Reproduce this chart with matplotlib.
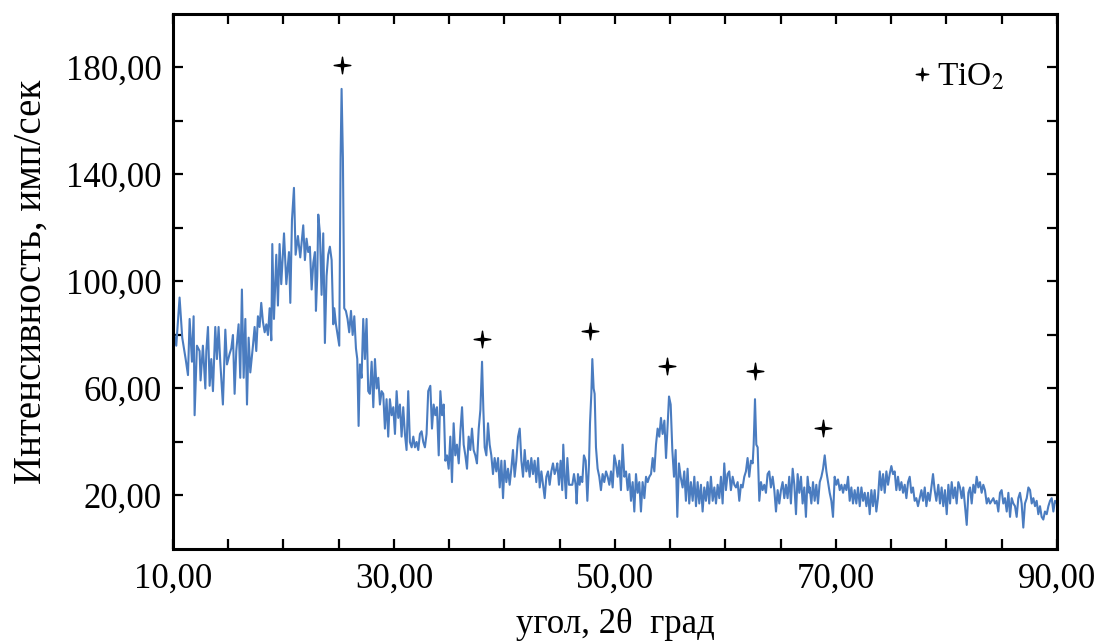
# -*- coding: utf-8 -*-

import matplotlib
matplotlib.use('Agg')
import matplotlib.pyplot as plt
import numpy as np
from matplotlib.path import Path
from matplotlib.lines import Line2D
from matplotlib.ticker import FuncFormatter, MultipleLocator, FixedLocator

# XRD pattern
theta_1 = [10.00, 10.30, 10.60, 10.84, 11.15, 11.36, 11.51, 11.72, 11.87, 11.96,
           12.17, 12.41, 12.50, 12.71, 12.93, 13.02, 13.17, 13.32, 13.47, 13.62,
           13.83, 13.98, 14.13, 14.28, 14.52, 14.74, 14.89, 15.13, 15.28, 15.43,
           15.58, 15.73, 15.94, 16.09, 16.24, 16.40, 16.55, 16.70, 16.85, 17.00,
           17.24, 17.39, 17.54, 17.69, 17.84, 17.99, 18.14, 18.30, 18.45, 18.60,
           18.75, 18.90, 18.99, 19.14, 19.35, 19.50, 19.65, 19.80, 20.05, 20.26,
           20.50, 20.62, 20.77, 20.95, 21.10, 21.31, 21.52]
counts_1 = [83, 76, 94, 79, 71, 65, 86, 70, 87, 50,
            76, 74, 63, 76, 60, 74, 83, 61, 71, 59,
            83, 71, 83, 70, 54, 82, 69, 73, 75, 80,
            58, 74, 84, 64, 97, 64, 86, 54, 79, 66,
            76, 83, 74, 87, 83, 92, 85, 81, 84, 80,
            90, 78, 114, 86, 110, 91, 114, 99, 118, 99,
            111, 92, 123, 135, 110, 117, 109]

theta_2 = [21.79, 21.94, 22.09, 22.24, 22.39, 22.55, 22.70, 22.85, 22.94, 23.06,
           23.15, 23.30, 23.45, 23.60, 23.75, 23.90, 24.05, 24.20, 24.36, 24.51,
           24.60, 24.75, 24.90, 25.05, 25.17, 25.26, 25.38, 25.50, 25.65, 25.80,
           25.95, 26.11, 26.26, 26.41, 26.56, 26.68, 26.80, 26.92, 27.07, 27.22,
           27.37, 27.52, 27.67, 27.82, 27.98, 28.13, 28.28, 28.43, 28.58, 28.73,
           28.88, 29.03, 29.18, 29.33, 29.48, 29.63, 29.79, 29.94, 30.09, 30.24,
           30.39, 30.54, 30.69, 30.84, 30.99, 31.14, 31.29, 31.44, 31.60, 31.75,
           31.90, 32.05, 32.20, 32.35, 32.50, 32.65, 32.80, 32.95, 33.10]
counts_2 = [121, 108, 116, 111, 113, 97, 107, 111, 89, 102,
            125, 118, 95, 118, 77, 102, 110, 113, 108, 84,
            90, 84, 80, 76, 146, 172, 146, 90, 89, 86,
            81, 89, 80, 87, 75, 71, 46, 69, 64, 86,
            71, 86, 59, 58, 70, 53, 71, 60, 64, 54,
            59, 58, 45, 56, 42, 56, 50, 53, 43, 59,
            49, 54, 42, 53, 43, 37, 59, 40, 38, 42,
            38, 40, 37, 43, 44, 40, 38, 43, 59]

theta_3 = [33.29, 33.44, 33.59, 33.74, 33.89, 34.05, 34.20, 34.35, 34.50, 34.65,
           34.80, 34.95, 35.10, 35.25, 35.40, 35.55, 35.70, 35.86, 36.01, 36.16,
           36.31, 36.46, 36.61, 36.76, 36.91, 37.06, 37.21, 37.36, 37.51, 37.67,
           37.82, 37.97, 38.09, 38.21, 38.36, 38.51, 38.66, 38.81, 38.96, 39.11,
           39.26, 39.42, 39.57, 39.72, 39.87, 40.02, 40.17, 40.32, 40.47, 40.62,
           40.77, 40.92, 41.07, 41.23, 41.38, 41.53, 41.68, 41.83, 41.98, 42.13,
           42.28, 42.43, 42.58, 42.73, 42.88, 43.04, 43.19, 43.34, 43.49, 43.64,
           43.79, 43.94, 44.09, 44.24, 44.39, 44.54, 44.69]
counts_3 = [61, 45, 54, 50, 53, 35, 59, 50, 54, 33,
            35, 30, 42, 25, 47, 35, 39, 32, 44, 53,
            39, 35, 30, 42, 37, 45, 37, 35, 32, 45,
            52, 70, 52, 38, 35, 47, 39, 35, 28, 34,
            29, 34, 23, 33, 19, 33, 25, 30, 24, 30,
            37, 27, 33, 42, 45, 33, 27, 37, 29, 33,
            27, 34, 28, 33, 25, 34, 23, 29, 24, 19,
            27, 29, 24, 29, 32, 28, 30]

theta_4 = [44.78, 44.93, 45.08, 45.23, 45.32, 45.45, 45.57, 45.69, 45.84, 45.99,
           46.14, 46.29, 46.44, 46.53, 46.65, 46.80, 46.89, 47.04, 47.19, 47.35,
           47.50, 47.65, 47.74, 47.86, 47.95, 48.07, 48.16, 48.28, 48.43, 48.58,
           48.73, 48.88, 49.03, 49.19, 49.34, 49.49, 49.64, 49.79, 49.94, 50.09,
           50.24, 50.39, 50.54, 50.69, 50.85, 51.00, 51.15, 51.30, 51.45, 51.60,
           51.75, 51.90, 52.05, 52.20, 52.35, 52.50, 52.66, 52.81, 52.96, 53.11,
           53.26, 53.41, 53.56, 53.71, 53.86, 54.01, 54.16, 54.31, 54.47, 54.62,
           54.77, 54.89, 55.04, 55.19, 55.34, 55.49, 55.64, 55.79, 55.94]
counts_4 = [32, 24, 33, 22, 39, 27, 19, 34, 24, 24,
            24, 28, 24, 17, 28, 24, 27, 25, 35, 33,
            18, 32, 47, 58, 71, 60, 58, 38, 30, 27,
            22, 28, 25, 29, 27, 24, 29, 23, 35, 32,
            27, 33, 22, 39, 27, 29, 22, 28, 18, 25,
            14, 28, 21, 25, 14, 25, 19, 27, 25, 27,
            28, 34, 29, 39, 45, 42, 49, 43, 48, 34,
            47, 57, 54, 37, 27, 37, 12, 32, 27]

theta_5 = [56.12, 56.27, 56.42, 56.57, 56.72, 56.87, 57.03, 57.18, 57.33, 57.48,
           57.63, 57.78, 57.93, 58.08, 58.23, 58.38, 58.53, 58.68, 58.84, 58.99,
           59.14, 59.29, 59.44, 59.59, 59.74, 59.89, 60.04, 60.19, 60.34, 60.49,
           60.65, 60.80, 60.95, 61.10, 61.25, 61.40, 61.55, 61.70, 61.85, 62.00,
           62.15, 62.30, 62.46, 62.55, 62.67, 62.79, 62.91, 63.06, 63.21, 63.36,
           63.51, 63.66, 63.81, 63.96, 64.11, 64.27, 64.42, 64.57, 64.72, 64.87,
           65.02, 65.17, 65.32, 65.47, 65.62, 65.77, 65.92, 66.08, 66.23, 66.38,
           66.53, 66.68, 66.83, 66.98, 67.13, 67.28, 67.43, 67.58]
counts_5 = [23, 29, 18, 30, 17, 25, 18, 27, 16, 25,
            17, 24, 14, 23, 18, 25, 17, 27, 18, 23,
            17, 24, 19, 27, 17, 32, 22, 28, 29, 22,
            27, 24, 23, 25, 18, 24, 23, 27, 29, 34,
            27, 33, 32, 39, 56, 39, 38, 18, 25, 22,
            24, 21, 28, 29, 23, 27, 22, 14, 22, 17,
            22, 25, 19, 24, 19, 27, 17, 30, 24, 13,
            28, 21, 27, 17, 23, 12, 27, 21]

theta_6 = [67.62, 67.77, 67.92, 68.07, 68.22, 68.37, 68.53, 68.68, 68.83, 68.98,
           69.13, 69.28, 69.43, 69.58, 69.73, 69.88, 70.03, 70.18, 70.34, 70.49,
           70.64, 70.79, 70.94, 71.09, 71.24, 71.39, 71.54, 71.69, 71.84, 71.99,
           72.15, 72.30, 72.45, 72.60, 72.75, 72.90, 73.05, 73.20, 73.35, 73.50,
           73.65, 73.80, 73.96, 74.11, 74.26, 74.41, 74.56, 74.71, 74.86, 75.01,
           75.16, 75.31, 75.46, 75.61, 75.77, 75.92, 76.07, 76.22, 76.37, 76.52,
           76.67, 76.82, 76.97, 77.12, 77.27, 77.42, 77.58, 77.73, 77.88, 78.03,
           78.18, 78.33, 78.48, 78.63, 78.78, 78.93, 79.08]
counts_6 = [23, 17, 25, 18, 24, 17, 25, 27, 30, 35,
            29, 25, 21, 18, 12, 27, 24, 26, 22, 24,
            21, 24, 22, 27, 18, 23, 17, 22, 17, 23,
            16, 23, 18, 21, 16, 21, 13, 22, 16, 22,
            14, 19, 29, 22, 28, 21, 29, 24, 28, 31,
            28, 29, 22, 27, 22, 25, 21, 24, 19, 25,
            27, 21, 23, 18, 19, 16, 19, 22, 18, 23,
            16, 21, 18, 23, 28, 22, 18]

theta_7 = [79.26, 79.41, 79.56, 79.71, 79.86, 80.02, 80.17, 80.32, 80.47, 80.62,
           80.77, 80.92, 81.07, 81.22, 81.37, 81.52, 81.67, 81.83, 81.98, 82.13,
           82.28, 82.43, 82.58, 82.73, 82.88, 83.03, 83.18, 83.33, 83.48, 83.64,
           83.79, 83.94, 84.09, 84.24, 84.39, 84.54, 84.69, 84.84, 84.99, 85.14,
           85.29, 85.45, 85.60, 85.75, 85.90, 86.05, 86.20, 86.35, 86.50, 86.65,
           86.80, 86.95, 87.10, 87.26, 87.41, 87.56, 87.71, 87.86, 88.01, 88.16,
           88.31, 88.46, 88.61, 88.76, 88.91, 89.07, 89.22, 89.37, 89.52, 89.67,
           89.82, 90.00]
counts_7 = [24, 17, 23, 16, 22, 13, 24, 17, 25, 19,
            23, 17, 25, 23, 19, 23, 16, 9, 21, 23,
            17, 24, 21, 27, 23, 25, 21, 24, 22, 17,
            19, 17, 18, 19, 17, 18, 14, 21, 22, 17,
            19, 14, 21, 12, 19, 17, 16, 12, 19, 21,
            17, 8, 17, 19, 23, 22, 17, 19, 16, 18,
            13, 16, 12, 11, 14, 13, 16, 18, 19, 14,
            18, 17]

# TiO2 reflections (marker positions above peaks)
peak_theta = [25.3, 37.96, 47.7, 54.7, 62.7, 68.8]
peak_mark = [181, 78.4, 81.4, 68.4, 66.5, 45.3]

x_labels = [10, 30, 50, 70, 90]
y_labels = [20, 60, 100, 140, 180]

theta = np.concatenate([theta_1, theta_2, theta_3, theta_4, theta_5, theta_6, theta_7])
counts = np.concatenate([counts_1, counts_2, counts_3, counts_4, counts_5, counts_6, counts_7])

plt.rcParams['font.family'] = ['Liberation Serif', 'DejaVu Serif']
plt.rcParams['mathtext.fontset'] = 'stix'

# 4-pointed star marker
s = 0.14
star = Path([(0, 1), (s, s), (1, 0), (s, -s), (0, -1), (-s, -s), (-1, 0), (-s, s), (0, 1)],
            [Path.MOVETO] + [Path.LINETO] * 7 + [Path.CLOSEPOLY])

fig = plt.figure(figsize=(11.03, 6.42), dpi=100)
ax = fig.add_axes([0.1568, 0.1449, 0.8015, 0.8333])

ax.plot(theta, counts, color='#4a7cc0', linewidth=1.5)
ax.plot(peak_theta, peak_mark, linestyle='none', marker=star, color='black', markersize=12)

ax.set_xlim(10, 90)
ax.set_ylim(0, 200)

ax.xaxis.set_major_locator(FixedLocator(x_labels))
ax.xaxis.set_minor_locator(MultipleLocator(5))
ax.yaxis.set_major_locator(FixedLocator(y_labels))
ax.yaxis.set_minor_locator(FixedLocator([40, 80, 120, 160]))
fmt = FuncFormatter(lambda v, p: ('%.2f' % v).replace('.', ','))
ax.xaxis.set_major_formatter(fmt)
ax.yaxis.set_major_formatter(fmt)

ax.tick_params(which='both', direction='in', top=True, right=True,
               length=7, width=1.6, labelsize=25)
ax.tick_params(axis='y', pad=8)
ax.tick_params(axis='x', pad=10)
for sp in ax.spines.values():
    sp.set_linewidth(2.2)

ax.set_ylabel('Интенсивность, имп/сек', fontsize=28)
ax.set_xlabel('угол, 2θ  град', fontsize=25)
ax.yaxis.set_label_coords(-0.14, 0.5)
ax.xaxis.set_label_coords(0.5, -0.11)

h = Line2D([], [], linestyle='none', marker=star, color='black', markersize=9, label='TiO$_2$')
ax.legend(handles=[h], loc='upper right', bbox_to_anchor=(0.94, 0.91), frameon=False,
          fontsize=24, handlelength=0.6, handletextpad=0.15, borderpad=0, borderaxespad=0)

plt.savefig('out.png', dpi=100)
